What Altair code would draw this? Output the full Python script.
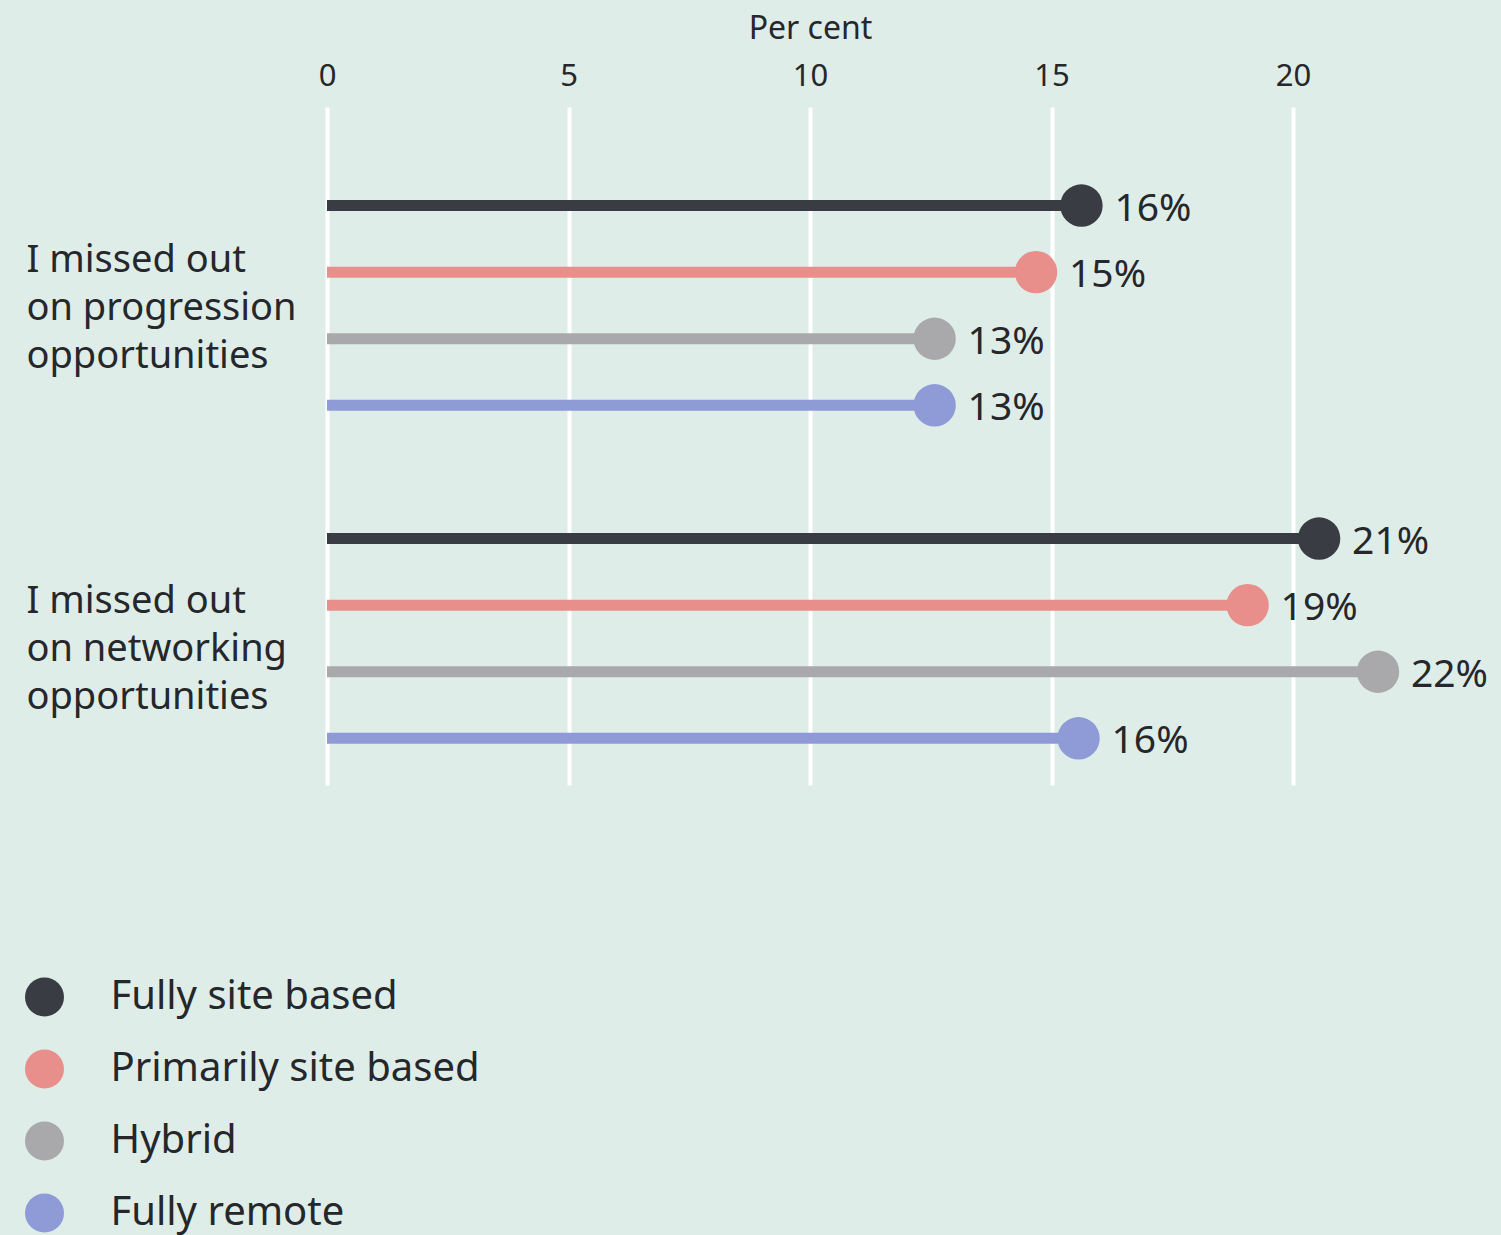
import json
import altair as alt
import pandas as pd

GROUP_LINES = [["I missed out", "on progression", "opportunities"],
               ["I missed out", "on networking", "opportunities"]]
GROUPS = [" ".join(l) for l in GROUP_LINES]
SERIES = ["Fully site based", "Primarily site based", "Hybrid", "Fully remote"]
COLORS = ["#3a3c43", "#e88f8b", "#a9a9ab", "#8f9bd7"]
PROGRESSION = [15.62, 14.68, 12.58, 12.58]
NETWORKING = [20.54, 19.06, 21.76, 15.56]
PROGRESSION_LABELS = ["16%", "15%", "13%", "13%"]
NETWORKING_LABELS = ["21%", "19%", "22%", "16%"]
X_TICKS = [0, 5, 10, 15, 20]

rows = []
for g, vals, labs in zip(GROUPS, [PROGRESSION, NETWORKING],
                         [PROGRESSION_LABELS, NETWORKING_LABELS]):
    for s, v, l in zip(SERIES, vals, labs):
        rows.append({"group": g, "series": s, "value": v, "label": l, "zero": 0})
df = pd.DataFrame(rows)

TEXT = "#25272b"
FONT = "Noto Sans"

label_expr = (f"datum.label == {json.dumps(GROUPS[0])} ? {json.dumps(GROUP_LINES[0])} : "
              f"{json.dumps(GROUP_LINES[1])}")
label_offset = {"condition": {"test": f"datum.label == {json.dumps(GROUPS[0])}", "value": -44},
                "value": -36}

y = alt.Y("group:N", sort=GROUPS, title=None,
          scale=alt.Scale(paddingInner=0.2, paddingOuter=0.118, align=0.83),
          axis=alt.Axis(labelExpr=label_expr, labelAlign="left", labelBaseline="middle",
                        labelPadding=301, tickSize=0, ticks=False, domain=False, grid=False,
                        labelFontSize=38, labelLineHeight=48, labelLimit=0,
                        labelOffset=label_offset,
                        labelColor=TEXT, labelFont=FONT))
yoff = alt.YOffset("series:N", sort=SERIES,
                   scale=alt.Scale(paddingInner=0, paddingOuter=0))
xaxis = alt.Axis(orient="top", values=X_TICKS, title="Per cent", ticks=False, domain=False,
                 grid=True, gridColor="#ffffff", gridWidth=4, labelFontSize=31,
                 labelFlush=False,
                 labelColor=TEXT, labelPadding=15, titleFontSize=32, titleFontWeight="normal",
                 titleColor=TEXT, titlePadding=15, labelFont=FONT, titleFont=FONT)
xscale = alt.Scale(domain=[0, 20], nice=False)
cscale = alt.Scale(domain=SERIES, range=COLORS)
legend = alt.Legend(orient="none", legendX=-302.5, legendY=870, title=None,
                    symbolType="circle", symbolSize=1520,
                    symbolStrokeWidth=0, symbolOpacity=1,
                    labelFontSize=40, labelOffset=46, rowPadding=32,
                    padding=0, labelColor=TEXT, labelFont=FONT, labelLimit=0)
color = alt.Color("series:N", scale=cscale, sort=SERIES, legend=legend)

base = alt.Chart(df)

stems = base.mark_bar(height=11).encode(
    x=alt.X("zero:Q", scale=xscale, axis=xaxis, title="Per cent"),
    x2="value:Q",
    y=y, yOffset=yoff,
    color=color,
)

dots = base.mark_circle(size=1800, opacity=1).encode(
    x=alt.X("value:Q", scale=xscale, axis=xaxis, title="Per cent"),
    y=y, yOffset=yoff,
    color=color,
)

texts = base.mark_text(align="left", baseline="middle", dx=33, dy=3, fontSize=39,
                       font=FONT, color=TEXT).encode(
    x=alt.X("value:Q", scale=xscale, axis=xaxis, title="Per cent"),
    y=y, yOffset=yoff,
    text="label:N",
)

chart = alt.layer(stems, dots, texts).properties(
    width=966, height=678,
    autosize=alt.AutoSizeParams(type="none"),
    padding={"left": 327, "top": 107, "right": 208, "bottom": 450},
    background="#dfede9",
).configure(font=FONT).configure_view(stroke=None)

chart.save("out.html", embed_options={"renderer": "svg", "actions": False})
